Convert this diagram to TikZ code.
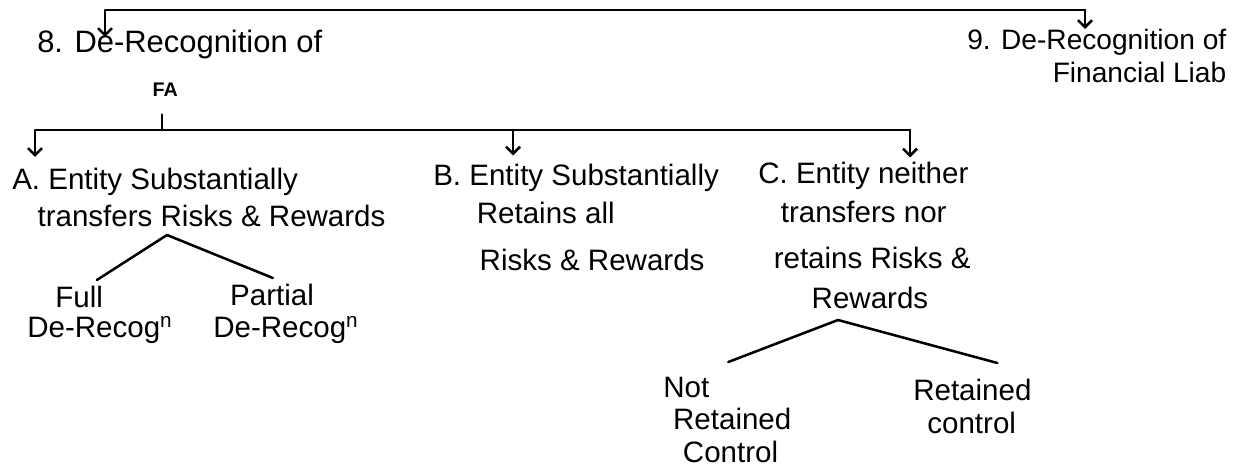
\documentclass[tikz,border=0pt]{standalone}
\usepackage{fontspec}
\setmainfont{Liberation Sans}
\usetikzlibrary{arrows.meta,calc}
\tikzset{
  lbl/.style={inner sep=0pt, anchor=north west, align=left, font=\fontsize{21}{27}\selectfont},
  head/.style={lbl, font=\fontsize{22}{28}\selectfont},
  link/.style={line width=1.8pt, line cap=round, line join=round},
  arr/.style={link, -{Straight Barb[length=5pt,width=10pt]}}
}
\begin{document}
\begin{tikzpicture}[x=0.025cm,y=-0.025cm]
\path[use as bounding box, fill=white] (0,0) rectangle (1240,471);

% headings
\node[head] (n8) at (37,30) {8. De-Recognition of\\[3pt]\hspace*{82pt}{\fontsize{14}{16}\selectfont\bfseries FA}};
\node[head, align=right, font=\fontsize{20}{23.5}\selectfont] (n9) at (967,29) {9. De-Recognition of\\Financial Liab};

% three cases
\node[lbl, font=\fontsize{21}{26}\selectfont] (nA) at (12,168) {A. Entity Substantially\\\hspace*{18pt}transfers Risks \& Rewards};
\node[lbl] (nB) at (433,163.5) {B. Entity Substantially\\\hspace*{31pt}Retains all\\[7pt]\hspace*{33pt}Risks \& Rewards};
\node[lbl, font=\fontsize{21}{28}\selectfont] (nC) at (758,161.5) {C. Entity neither\\\hspace*{16pt}transfers nor\\[5pt]\hspace*{11pt}retains Risks \&\\\hspace*{38pt}Rewards};

% outcomes
\node[lbl, font=\fontsize{21}{21.3}\selectfont] (full) at (27,286) {\hspace*{20pt}Full\\De-Recog\textsuperscript{n}};
\node[lbl, font=\fontsize{21}{22.8}\selectfont] (partial) at (213,284) {\hspace*{12pt}Partial\\De-Recog\textsuperscript{n}};
\node[lbl, font=\fontsize{21}{23}\selectfont] (nrc) at (663,377) {Not\\\hspace*{7pt}Retained\\\hspace*{14pt}Control};
\node[lbl, font=\fontsize{21}{23}\selectfont] (rc) at (913,379) {Retained\\\hspace*{10pt}control};

% top bracket
\coordinate (t8) at (105,10);
\coordinate (t9) at (1085,10);
\draw[arr] (t9) -- (t8) -- ($(t8 |- n8.north)+(0,7)$);
\draw[arr] (t9) -- (t9 |- n9.north);

% bar under FA
\coordinate (bL) at (35,130);
\coordinate (bFA) at (162,130);
\coordinate (bB) at (513,130);
\coordinate (bR) at (910,130);
\draw[link] ($(n8.south -| bFA)+(0,18)$) -- (bFA);
\draw[arr] (bR) -- (bL) -- ($(bL |- nA.north)+(0,-11)$);
\draw[arr] (bB) -- ($(bB |- nB.north)+(0,-8)$);
\draw[arr] (bR) -- ($(bR |- nC.north)+(0,-4)$);

% branches
\coordinate (jA) at (167,235);
\draw[link] (jA) -- ($(full.north)+(-3,-6)$);
\draw[link] (jA) -- ($(partial.north)+(-13,-6)$);
\coordinate (jC) at (838,320);
\draw[link] (jC) -- ($(nrc.north)+(1,-15)$);
\draw[link] (jC) -- ($(rc.north)+(25,-16)$);
\end{tikzpicture}
\end{document}
